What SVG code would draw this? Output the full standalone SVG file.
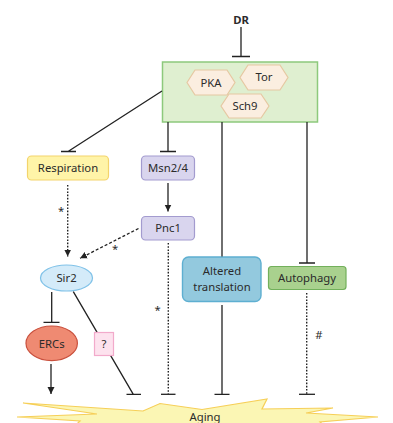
<svg xmlns="http://www.w3.org/2000/svg" width="393" height="423" viewBox="0 0 393 423">
<style>
text{font-family:"Noto Sans","Open Sans","Liberation Sans",sans-serif;font-size:11.3px;fill:#2b2b2b;text-anchor:middle}
.ln{stroke:#222;stroke-width:1.3;fill:none}
.dot{stroke:#222;stroke-width:1.4;fill:none;stroke-dasharray:1.6,1.6}
.dash{stroke:#222;stroke-width:1.3;fill:none;stroke-dasharray:3,2}
.hex{fill:#fbeee0;stroke:#e6c8a2;stroke-width:1.2}
</style>
<defs>
<marker id="ah" markerUnits="userSpaceOnUse" markerWidth="8" markerHeight="8" viewBox="0 0 8 8" refX="7" refY="4" orient="auto">
<path d="M0,0.5 L7,4 L0,7.5 Z" fill="#222"/>
</marker>
</defs>
<g id="aging">
<polygon points="23,403 143,411 160,403.5 202,409.5 267,399 262,409 333,408 306,413 378,417 320,422 340,440 60,440 80,421 17,417 97,414" fill="#fbf6b4" stroke="#f6cf58" stroke-width="1.2"/>
<text x="205" y="421" font-size="11.5">Aging</text>
</g>
<g id="dr"><text x="241" y="23.5" font-size="12.5" style="font-weight:bold">DR</text></g>
<g id="tor-box">
<rect x="162.5" y="62" width="155" height="60" fill="#dfefd0" stroke="#8dc97c" stroke-width="1.5"/>
</g>
<g id="pka"><polygon class="hex" points="187,82.5 195,70 227,70 235,82.5 227,95 195,95"/><text x="211" y="86.5">PKA</text></g>
<g id="tor"><polygon class="hex" points="240,77.5 248,65 280,65 288,77.5 280,90 248,90"/><text x="264" y="81">Tor</text></g>
<g id="sch9"><polygon class="hex" points="221,106 229,94 261,94 269,106 261,118 229,118"/><text x="245" y="110">Sch9</text></g>
<g id="respiration"><rect x="27.5" y="156" width="81" height="24" rx="4" fill="#fff4a8" stroke="#f3d46c" stroke-width="1.2"/><text x="68" y="172">Respiration</text></g>
<g id="msn24"><rect x="141.5" y="156" width="53" height="24" rx="4" fill="#d9d5ee" stroke="#a39bcf" stroke-width="1.2"/><text x="168" y="172">Msn2/4</text></g>
<g id="pnc1"><rect x="141.5" y="216.5" width="53" height="23.5" rx="4" fill="#d9d5ee" stroke="#a39bcf" stroke-width="1.2"/><text x="168" y="232">Pnc1</text></g>
<g id="sir2"><ellipse cx="66.5" cy="278" rx="26" ry="13" fill="#d4ebf9" stroke="#80c2e8" stroke-width="1.2"/><text x="66.5" y="282">Sir2</text></g>
<g id="ercs"><ellipse cx="51.7" cy="343.3" rx="25.7" ry="17.3" fill="#ef8a72" stroke="#c9503d" stroke-width="1.2"/><text x="51.7" y="347.5">ERCs</text></g>
<g id="translation"><rect x="182.5" y="257" width="78.5" height="44.5" rx="6" fill="#93c9de" stroke="#5eafd1" stroke-width="1.4"/><text x="222" y="274.5">Altered</text><text x="222" y="291">translation</text></g>
<g id="autophagy"><rect x="268.5" y="266.5" width="77.5" height="23" rx="3" fill="#a9d18e" stroke="#72b05b" stroke-width="1.2"/><text x="307" y="282">Autophagy</text></g>
<g id="connectors">
<path class="ln" d="M241,27 V56.5 M232,56.5 H250"/>
<path class="ln" d="M162,91 L68,151.5 M61,151.5 H76"/>
<path class="ln" d="M168,122 V151.5 M160,151.5 H176"/>
<path class="ln" d="M222,122 V256.5"/>
<path class="ln" d="M307,122 V263 M299,263 H315"/>
<path class="ln" d="M168,183 V211.5" marker-end="url(#ah)"/>
<path class="dot" d="M67.7,185 V256.5" marker-end="url(#ah)"/>
<path class="dash" d="M138.5,228.5 L80,258.3" marker-end="url(#ah)"/>
<path class="ln" d="M51.7,292 V322.3 M43.5,322.3 H59.5"/>
<path class="ln" d="M51,364 V394" marker-end="url(#ah)"/>
<path class="ln" d="M73.3,291.7 L133.3,394.3 M126.5,394.3 H141"/>
<path class="dot" d="M168.3,243 V394.3"/>
<path class="ln" d="M161,394.3 H175.5"/>
<path class="ln" d="M222,305 V394.3 M214.5,394.3 H229.5"/>
<path class="dot" d="M306.7,293 V394.3"/>
<path class="ln" d="M299,394.3 H315"/>
</g>
<g id="qbox"><rect x="94.5" y="332.5" width="19" height="23" fill="#fde2ee" stroke="#f2aacb" stroke-width="1.2"/><text x="104" y="348">?</text></g>
<g id="labels">
<text x="61" y="215" font-size="10">*</text>
<text x="115" y="253" font-size="10">*</text>
<text x="157.5" y="314" font-size="10">*</text>
<text x="319" y="339" font-size="10">#</text>
</g>
</svg>
